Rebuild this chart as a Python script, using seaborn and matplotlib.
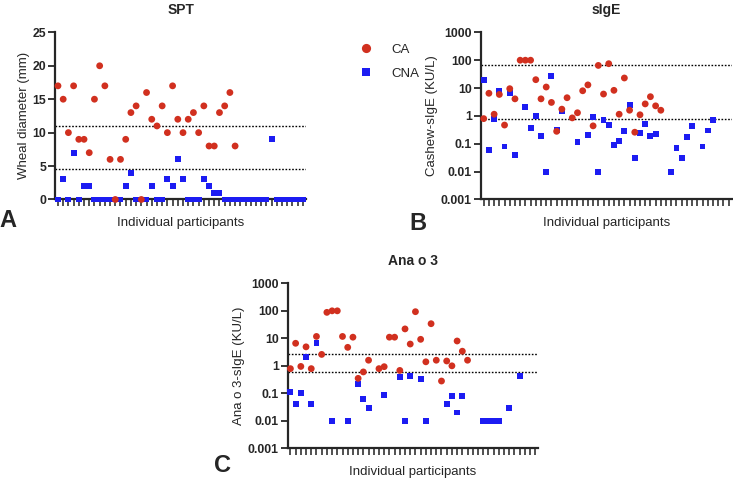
import pandas as pd
import seaborn as sns
import matplotlib.pyplot as plt
from matplotlib.ticker import FixedLocator, FixedFormatter

# participant slots on the x axis (same for all panels)
n_participants = 48
groups = ["CA", "CNA"]
colors = {"CA": "#d1301f", "CNA": "#1c1cf2"}
markers = {"CA": "o", "CNA": "s"}
marker_sizes = {"CA": 24, "CNA": 18}

# A: skin prick test wheal diameter (mm)
spt_ca = [17, 15, 10, 17, 9, 9, 7, 15, 20, 17, 6, 0, 6, 9, 13, 14, 0, 16, 12, 11,
          14, 10, 17, 12, 10, 12, 13, 10, 14, 8, 8, 13, 14, 16, 8]
spt_cna = [0, 3, 0, 7, 0, 2, 2, 0, 0, 0, 0, 0, 0, 2, 4, 0, 0, 0, 2, 0,
           0, 3, 2, 6, 3, 0, 0, 0, 3, 2, 1, 1, 0, 0, 0, 0, 0, 0, 0, 0,
           0, 9, 0, 0, 0, 0, 0, 0]
spt_cutoffs = [11, 4.5]

# B: cashew-sIgE (KU/L)
sige_ca = [0.8, 6.5, 1.15, 5.9, 0.47, 9.5, 4.1, 100, 100, 100, 20, 4.1, 10.9, 3.05,
           0.28, 1.75, 4.5, 0.85, 1.3, 8.0, 13, 0.44, 65, 6.1, 75, 8.3, 1.15, 23,
           1.6, 0.26, 1.1, 2.7, 4.9, 2.3, 1.6]
sige_cna = [20, 0.06, 0.75, 7.7, 0.08, 6.5, 0.04, None, 2.1, 0.37, 1.0, 0.19, 0.01,
            27, 0.32, 1.5, None, None, 0.12, None, 0.2, 0.94, 0.01, 0.73, 0.48,
            0.09, 0.13, 0.28, 2.5, 0.03, 0.25, 0.52, 0.19, 0.23, None, None, 0.01,
            0.07, 0.03, 0.17, 0.45, None, 0.08, 0.3, 0.73, None, None, None]
sige_cutoffs = [65, 0.8]

# C: Ana o 3-sIgE (KU/L)
anao3_ca = [0.79, 6.6, 0.95, 4.9, 0.79, 11.7, 2.6, 88, 100, 100, 11.7, 4.7, 11,
            0.35, 0.6, 1.6, None, 0.79, 0.93, 11, 11, 0.68, 22, 6.2, 93, 9.2, 1.4,
            34, 1.6, 0.28, 1.5, 1.0, 8.0, 3.4, 1.6]
anao3_cna = [0.11, 0.04, 0.1, 2.1, 0.04, 6.7, None, None, 0.01, None, None, 0.01,
             None, 0.22, 0.06, 0.03, None, None, 0.09, None, None, 0.39, 0.01, 0.44,
             None, 0.32, 0.01, None, None, None, 0.04, 0.08, 0.02, 0.08, None, None,
             None, 0.01, 0.01, 0.01, 0.01, None, 0.03, None, 0.44, None, None, None]
anao3_cutoffs = [2.6, 0.6]

log_ticks = [0.001, 0.01, 0.1, 1, 10, 100, 1000]
log_labels = ["0.001", "0.01", "0.1", "1", "10", "100", "1000"]


def build_frame(ca, cna):
    # CNA rows first so the red CA points end up on top
    rows = []
    for group, values in (("CNA", cna), ("CA", ca)):
        for i, v in enumerate(values):
            if v is not None:
                rows.append({"participant": i, "value": v, "group": group})
    return pd.DataFrame(rows)


def draw_panel(ax, ca, cna, title, ylabel, cutoffs, log=False):
    df = build_frame(ca, cna)
    sns.scatterplot(data=df, x="participant", y="value", hue="group", style="group",
                    size="group", hue_order=groups, style_order=groups,
                    size_order=groups, palette=colors, markers=markers,
                    sizes=marker_sizes, linewidth=0, clip_on=False, ax=ax,
                    legend=ax is axes[0], zorder=3)
    for c in cutoffs:
        ax.axhline(c, color="black", lw=1, ls=(0, (1.2, 1.2)), zorder=1)
    if log:
        ax.set_yscale("log")
        ax.set_ylim(0.001, 1000)
        ax.yaxis.set_major_locator(FixedLocator(log_ticks))
        ax.yaxis.set_major_formatter(FixedFormatter(log_labels))
        ax.yaxis.set_minor_locator(FixedLocator([]))
    else:
        ax.set_ylim(0, 25)
        ax.set_yticks([0, 5, 10, 15, 20, 25])
    ax.set_xlim(-0.52, 47.6)
    ax.set_xticks(range(n_participants))
    ax.set_xticklabels([])
    ax.tick_params(axis="x", length=5, width=1.1, color="#222222")
    ax.tick_params(axis="y", length=5, width=1.3, labelsize=8.8, pad=1.5)
    for lab in ax.get_yticklabels():
        lab.set_fontweight("bold")
    for side in ("top", "right"):
        ax.spines[side].set_visible(False)
    for side in ("left", "bottom"):
        ax.spines[side].set_linewidth(1.6)
    ax.set_title(title, fontsize=10, fontweight="bold", pad=13)
    ax.set_xlabel("Individual participants", fontsize=9.5, labelpad=4)
    ax.set_ylabel(ylabel, fontsize=9.5, labelpad=2)


sns.set_style("ticks")
plt.rcParams["font.family"] = ["Liberation Sans", "DejaVu Sans"]

fig = plt.figure(figsize=(7.33, 4.83), dpi=100)
axes = [
    fig.add_axes([0.0754, 0.587, 0.342, 0.346]),
    fig.add_axes([0.6562, 0.587, 0.342, 0.346]),
    fig.add_axes([0.3925, 0.0718, 0.342, 0.3416]),
]

draw_panel(axes[0], spt_ca, spt_cna, "SPT", "Wheal diameter (mm)", spt_cutoffs)
draw_panel(axes[1], sige_ca, sige_cna, "sIgE", "Cashew-sIgE (KU/L)", sige_cutoffs, log=True)
draw_panel(axes[2], anao3_ca, anao3_cna, "Ana o 3", "Ana o 3-sIgE (KU/L)", anao3_cutoffs, log=True)

handles, labels = axes[0].get_legend_handles_labels()
axes[0].get_legend().remove()
fig.legend(handles, labels, loc="upper left", bbox_to_anchor=(0.465, 0.935),
           frameon=False, fontsize=9.5, handletextpad=0.9, labelspacing=0.9,
           markerscale=1.35)

fig.text(0.011, 1 - 221 / 483, "A", fontsize=17, fontweight="bold", ha="center", va="center")
fig.text(0.570, 1 - 223 / 483, "B", fontsize=17, fontweight="bold", ha="center", va="center")
fig.text(0.304, 1 - 466 / 483, "C", fontsize=17, fontweight="bold", ha="center", va="center")

fig.savefig("out.png", dpi=100)
